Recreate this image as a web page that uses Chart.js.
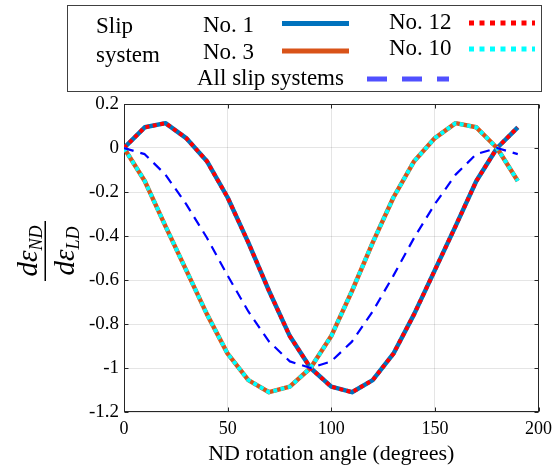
<!DOCTYPE html>
<html><head><meta charset="utf-8">
<script src="https://cdn.jsdelivr.net/npm/chart.js@4.4.1/dist/chart.umd.min.js"></script>
<style>html,body{margin:0;padding:0;background:#fff;}#wrap{position:relative;width:558px;height:471px;}</style>
</head><body><div id="wrap"><canvas id="c" width="558" height="471"></canvas></div>
<script>
// ---- data ----
const angles   = [0, 10, 20, 30, 40, 50, 60, 70, 80, 90, 100, 110, 120, 130, 140, 150, 160, 170, 180, 190];
const slipNo1  = [0, 0.094, 0.113, 0.045, -0.06, -0.225, -0.43, -0.65, -0.855, -1.0, -1.085, -1.11, -1.055, -0.935, -0.755, -0.555, -0.355, -0.15, 0, 0.094];
const slipNo3  = [0, -0.15, -0.355, -0.555, -0.755, -0.935, -1.055, -1.11, -1.085, -1.0, -0.855, -0.65, -0.43, -0.225, -0.06, 0.045, 0.113, 0.094, 0, -0.15];
const slipNo12 = [0, 0.094, 0.113, 0.045, -0.06, -0.225, -0.43, -0.65, -0.855, -1.0, -1.085, -1.11, -1.055, -0.935, -0.755, -0.555, -0.355, -0.15, 0, 0.094];
const slipNo10 = [0, -0.15, -0.355, -0.555, -0.755, -0.935, -1.055, -1.11, -1.085, -1.0, -0.855, -0.65, -0.43, -0.225, -0.06, 0.045, 0.113, 0.094, 0, -0.15];
const allSlip  = [0, -0.028, -0.121, -0.255, -0.408, -0.58, -0.743, -0.88, -0.97, -1.0, -0.97, -0.88, -0.743, -0.58, -0.408, -0.255, -0.121, -0.028, 0, -0.028];
const xTicks = [0, 50, 100, 150, 200];
const yTicks = [0.2, 0, -0.2, -0.4, -0.6, -0.8, -1, -1.2];
const yTickLabels = ['0.2', '0', '-0.2', '-0.4', '-0.6', '-0.8', '-1', '-1.2'];
const xTitle = 'ND rotation angle (degrees)';

const SERIF = '"Liberation Serif", "Times New Roman", serif';
const pts = arr => angles.map((a, i) => ({x: a, y: arr[i]}));
const AX = '#262626';

const decor = {
  id: 'decor',
  beforeDatasetsDraw(chart) {
    const {ctx, chartArea: a} = chart;
    const xs = chart.scales.x, ys = chart.scales.y;
    ctx.save();
    ctx.strokeStyle = AX; ctx.lineWidth = 1;
    const L = Math.round(a.left) + 0.5, R = Math.round(a.right) - 0.5;
    const T = Math.round(a.top) + 0.5, B = Math.round(a.bottom) - 0.5;
    ctx.strokeRect(L, T, R - L, B - T);
    ctx.beginPath();
    xTicks.forEach(v => {
      const px = Math.round(xs.getPixelForValue(v)) + 0.5;
      ctx.moveTo(px, B); ctx.lineTo(px, B - 4);
      ctx.moveTo(px, T); ctx.lineTo(px, T + 4);
    });
    yTicks.forEach(v => {
      const py = Math.round(ys.getPixelForValue(v)) + 0.5;
      ctx.moveTo(L, py); ctx.lineTo(L + 4, py);
      ctx.moveTo(R, py); ctx.lineTo(R - 4, py);
    });
    ctx.stroke();
    ctx.restore();
  },
  afterDraw(chart) {
    const ctx = chart.ctx;
    // ---- y axis label (rotated fraction) ----
    ctx.save();
    ctx.translate(0, 251);
    ctx.rotate(-Math.PI / 2);
    ctx.fillStyle = '#000';
    ctx.textBaseline = 'alphabetic';
    ctx.textAlign = 'left';
    const part = (main, sub, vMain, vSub) => {
      ctx.font = 'italic 29px ' + SERIF;
      const m = ctx.measureText(main).width;
      ctx.font = 'italic 18px ' + SERIF;
      const s = ctx.measureText(sub).width;
      const u0 = -(m + s) / 2;
      ctx.font = 'italic 29px ' + SERIF;
      ctx.fillText(main, u0, vMain);
      ctx.font = 'italic 18px ' + SERIF;
      ctx.fillText(sub, u0 + m, vSub);
    };
    part('d\u03B5', 'ND', 37, 42);
    ctx.fillRect(-30, 44.5, 60, 1.5);
    part('d\u03B5', 'LD', 74, 79);
    ctx.restore();

    // ---- legend ----
    ctx.save();
    ctx.strokeStyle = '#404040'; ctx.lineWidth = 1;
    ctx.strokeRect(67.5, 5.5, 474, 86);
    ctx.fillStyle = '#000';
    ctx.font = '23px ' + SERIF;
    ctx.textBaseline = 'alphabetic'; ctx.textAlign = 'left';
    ctx.fillText('Slip', 96, 33);
    ctx.fillText('system', 96, 62);
    ctx.fillText('No. 1', 203, 32);
    ctx.fillText('No. 3', 203, 59);
    ctx.fillText('No. 12', 389, 28.5);
    ctx.fillText('No. 10', 389, 55);
    ctx.fillText('All slip systems', 197, 85);
    const seg = (x1, x2, y, color, w, dash) => {
      ctx.beginPath();
      ctx.strokeStyle = color; ctx.lineWidth = w; ctx.lineCap = 'butt';
      ctx.setLineDash(dash);
      ctx.moveTo(x1, y); ctx.lineTo(x2, y); ctx.stroke();
    };
    seg(282, 349, 23.5, '#0072BD', 5, []);
    seg(282, 349, 51, '#D95319', 5, []);
    seg(469, 535, 23, '#FF0000', 5, [5, 5.5]);
    seg(469, 535, 49, '#00FFFF', 5, [5, 5.5]);
    seg(367, 449, 79, '#5050FF', 5, [20, 15]);
    ctx.restore();
  }
};

new Chart(document.getElementById('c'), {
  type: 'line',
  data: {
    datasets: [
      {label: 'All slip systems', data: pts(allSlip), borderColor: '#0000FF', borderWidth: 2.2, borderDash: [10, 7], order: 0},
      {label: 'No. 10', data: pts(slipNo10), borderColor: '#00FFFF', borderWidth: 4, borderDash: [4, 3.5], order: 1},
      {label: 'No. 12', data: pts(slipNo12), borderColor: '#FF0000', borderWidth: 4, borderDash: [4, 3.5], order: 2},
      {label: 'No. 3', data: pts(slipNo3), borderColor: '#D95319', borderWidth: 4.5, order: 3},
      {label: 'No. 1', data: pts(slipNo1), borderColor: '#0072BD', borderWidth: 4.5, order: 4}
    ]
  },
  options: {
    responsive: false,
    animation: false,
    events: [],
    elements: {point: {radius: 0}, line: {tension: 0, fill: false, borderCapStyle: 'butt', borderJoinStyle: 'round'}},
    layout: {padding: {left: 0, top: 104, right: 17, bottom: 0}},
    plugins: {legend: {display: false}, tooltip: {enabled: false}},
    scales: {
      x: {
        type: 'linear', min: 0, max: 200,
        afterBuildTicks: s => { s.ticks = xTicks.map(v => ({value: v})); },
        afterFit: s => { s.height = 59; },
        ticks: {font: {family: SERIF, size: 18}, color: '#000', padding: 6, maxRotation: 0},
        grid: {color: 'rgba(38,38,38,0.12)', drawTicks: false},
        border: {display: false},
        title: {display: true, text: xTitle, font: {family: SERIF, size: 22}, color: '#000', padding: {top: 2, bottom: 4}}
      },
      y: {
        min: -1.2, max: 0.2,
        afterBuildTicks: s => { s.ticks = yTicks.map(v => ({value: v})); },
        afterFit: s => { s.width = 124; },
        ticks: {font: {family: SERIF, size: 19}, color: '#000', padding: 5,
                callback: (v) => { const i = yTicks.findIndex(t => Math.abs(t - v) < 1e-9); return i >= 0 ? yTickLabels[i] : ''; }},
        grid: {color: 'rgba(38,38,38,0.12)', drawTicks: false},
        border: {display: false}
      }
    }
  },
  plugins: [decor]
});
</script></body></html>
